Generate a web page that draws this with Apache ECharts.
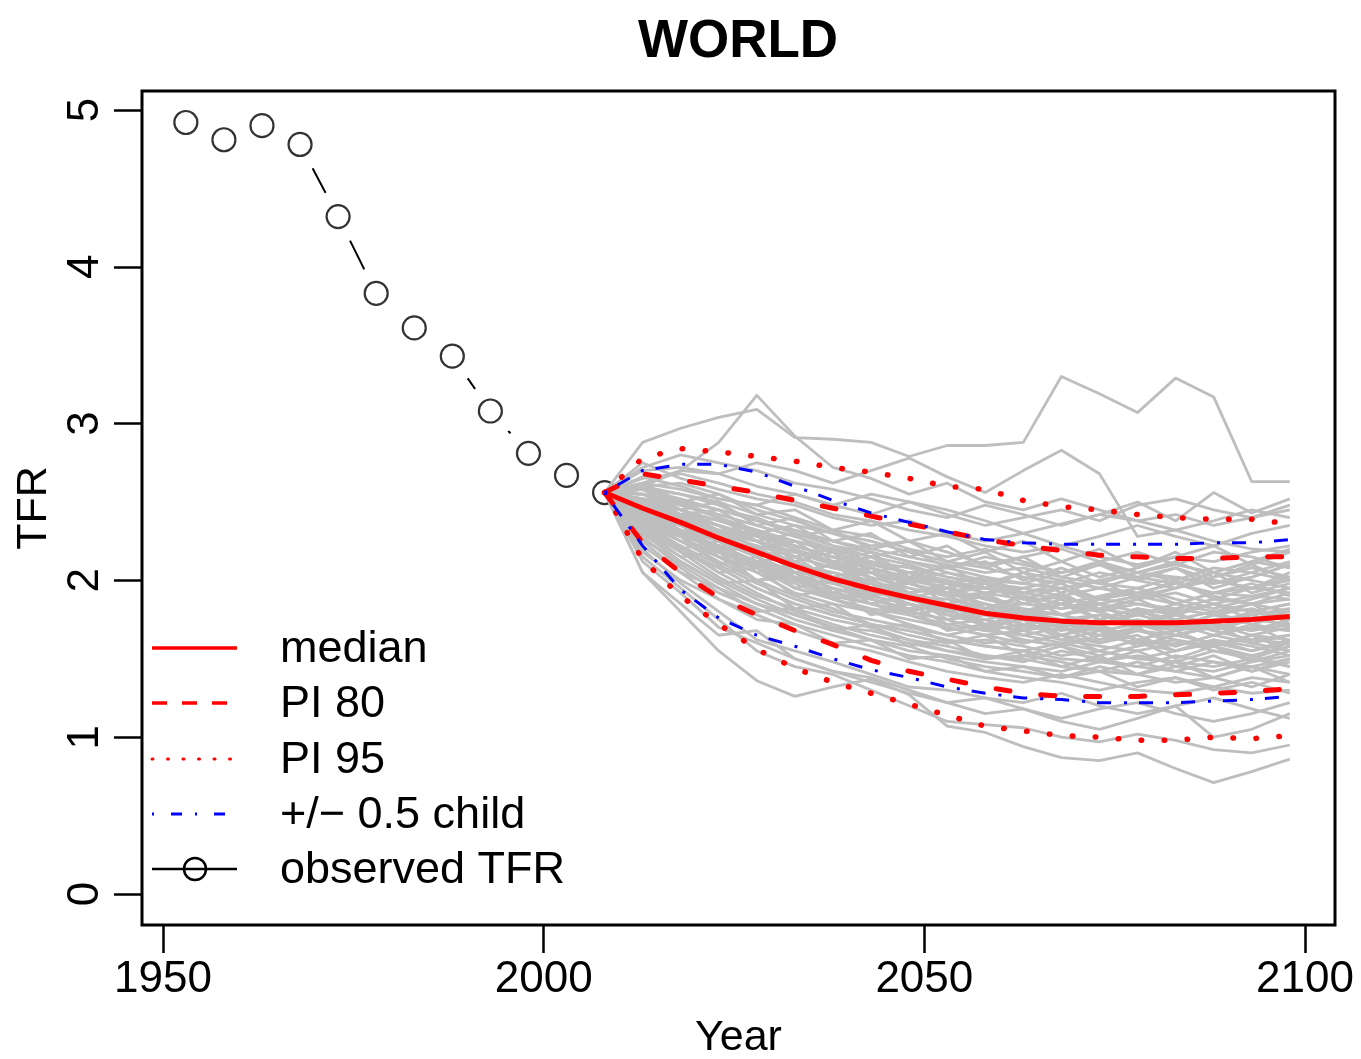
<!DOCTYPE html>
<html><head><meta charset="utf-8">
<script src="https://cdn.jsdelivr.net/npm/echarts@6/dist/echarts.min.js"></script>
<style>html,body{margin:0;padding:0;background:#fff}#c{width:1361px;height:1059px}</style>
</head><body><div id="c"></div>
<script>
// ---------- data ----------
const obsYears = [1953,1958,1963,1968,1973,1978,1983,1988,1993,1998,2003,2008];
const obsTFR   = [4.92,4.81,4.90,4.78,4.32,3.83,3.61,3.43,3.08,2.81,2.67,2.56];

const projYears = [2008,2013,2018,2023,2028,2033,2038,2043,2048,2053,2058,2063,2068,2073,2078,2083,2088,2093,2098];
const median    = [2.56,2.46,2.37,2.27,2.18,2.09,2.01,1.945,1.89,1.84,1.79,1.76,1.74,1.73,1.73,1.73,1.74,1.75,1.77];
const pi80Upper = [2.56,2.68,2.64,2.60,2.56,2.51,2.46,2.41,2.36,2.31,2.26,2.22,2.19,2.16,2.15,2.14,2.14,2.15,2.15];
const pi80Lower = [2.56,2.24,2.05,1.89,1.78,1.68,1.59,1.49,1.42,1.37,1.32,1.28,1.26,1.26,1.26,1.27,1.28,1.29,1.31];
const pi95Upper = [2.56,2.78,2.84,2.82,2.79,2.76,2.72,2.69,2.65,2.60,2.58,2.51,2.47,2.45,2.42,2.40,2.39,2.39,2.36];
const pi95Lower = [2.56,2.13,1.90,1.72,1.56,1.44,1.35,1.28,1.21,1.14,1.07,1.04,1.01,1.00,0.98,0.98,1.00,0.99,1.01];
const halfUpper = [2.56,2.70,2.74,2.74,2.69,2.60,2.51,2.43,2.37,2.31,2.26,2.24,2.23,2.23,2.23,2.23,2.24,2.24,2.26];
const halfLower = [2.56,2.22,1.94,1.76,1.65,1.58,1.50,1.43,1.38,1.32,1.28,1.25,1.24,1.22,1.22,1.22,1.23,1.24,1.26];

const trajectories = [
  [2.56,2.88,2.97,3.04,3.09,2.91,2.90,2.88,2.79,2.86,2.86,2.88,3.30,3.19,3.07,3.29,3.17,2.63,2.63],
  [2.56,2.60,2.70,2.88,3.18,2.92,2.72,2.65,2.55,2.62,2.50,2.45,2.52,2.45,2.38,2.42,2.35,2.40,2.45],
  [2.56,2.62,2.70,2.68,2.75,2.70,2.62,2.70,2.78,2.66,2.56,2.70,2.83,2.68,2.28,2.32,2.25,2.20,2.18],
  [2.56,2.66,2.60,2.52,2.48,2.55,2.48,2.42,2.50,2.45,2.38,2.30,2.36,2.42,2.50,2.38,2.56,2.43,2.52],
  [2.56,2.05,1.80,1.55,1.36,1.26,1.32,1.37,1.27,1.07,1.03,0.94,0.87,0.85,0.90,0.80,0.71,0.78,0.86],
  [2.56,2.15,1.95,1.75,1.55,1.45,1.40,1.30,1.20,1.10,1.08,1.06,1.00,0.97,1.02,0.98,0.92,0.90,0.95],
  [2.56,2.05,1.85,1.65,1.68,1.50,1.42,1.38,1.30,1.22,1.15,1.18,1.10,1.05,1.12,1.20,1.00,1.05,1.15],
  [2.56,2.60,2.55,2.50,2.42,2.35,2.30,2.22,2.25,2.18,2.10,2.15,2.20,2.12,2.05,2.10,2.18,2.15,2.08],
  [2.56,2.48,2.40,2.35,2.20,2.12,2.02,1.95,1.98,1.90,1.82,1.78,1.85,1.80,1.72,1.70,1.78,1.82,1.75],
  [2.56,2.40,2.28,2.15,2.05,1.92,1.85,1.80,1.72,1.65,1.70,1.62,1.58,1.65,1.60,1.55,1.62,1.58,1.52],
  [2.56,2.52,2.45,2.38,2.30,2.22,2.15,2.08,2.00,2.05,1.98,1.92,1.95,1.88,1.92,1.98,1.90,1.85,1.92],
  [2.56,2.35,2.20,2.05,1.92,1.80,1.72,1.65,1.60,1.55,1.52,1.48,1.55,1.50,1.45,1.52,1.48,1.42,1.48],
  [2.56,2.45,2.38,2.25,2.15,2.05,2.02,1.95,1.88,1.80,1.85,1.78,1.70,1.75,1.82,1.78,1.72,1.80,1.85],
  [2.56,2.62,2.58,2.52,2.48,2.40,2.32,2.28,2.20,2.15,2.20,2.12,2.05,2.10,2.02,1.98,2.05,2.00,1.95],
  [2.56,2.30,2.12,1.98,1.85,1.78,1.70,1.62,1.58,1.50,1.45,1.42,1.38,1.45,1.40,1.35,1.38,1.32,1.40],
  [2.56,2.50,2.42,2.32,2.25,2.10,2.05,2.00,1.92,1.95,1.88,1.82,1.78,1.72,1.78,1.85,1.80,1.72,1.68],
  [2.56,2.42,2.30,2.20,2.10,2.00,1.90,1.85,1.78,1.72,1.68,1.72,1.65,1.60,1.68,1.62,1.58,1.65,1.70],
  [2.56,2.55,2.48,2.42,2.35,2.28,2.20,2.15,2.10,2.02,1.98,2.05,2.00,1.95,2.02,2.08,2.00,1.95,2.02],
  [2.56,2.38,2.25,2.12,2.00,1.90,1.82,1.72,1.68,1.62,1.58,1.55,1.60,1.55,1.50,1.48,1.55,1.52,1.45],
  [2.56,2.45,2.32,2.22,2.12,2.05,1.95,1.88,1.82,1.85,1.78,1.72,1.75,1.68,1.72,1.78,1.72,1.68,1.75],
  [2.56,2.58,2.52,2.45,2.38,2.32,2.25,2.18,2.12,2.08,2.15,2.10,2.05,2.12,2.18,2.10,2.05,2.12,2.08],
  [2.56,2.32,2.18,2.02,1.90,1.82,1.75,1.70,1.62,1.58,1.52,1.50,1.45,1.42,1.48,1.42,1.38,1.45,1.40],
  [2.56,2.48,2.38,2.28,2.18,2.10,2.00,1.95,1.85,1.80,1.75,1.80,1.75,1.78,1.72,1.68,1.75,1.78,1.82],
  [2.56,2.52,2.48,2.40,2.30,2.25,2.18,2.10,2.05,1.98,1.95,1.90,1.85,1.90,1.95,1.88,1.82,1.88,1.95],
  [2.56,2.40,2.25,2.18,2.08,1.98,1.88,1.80,1.75,1.70,1.65,1.60,1.65,1.70,1.62,1.58,1.65,1.60,1.55],
  [2.56,2.44,2.35,2.28,2.20,2.10,2.05,1.98,1.90,1.88,1.82,1.85,1.90,1.82,1.78,1.82,1.88,1.85,1.80],
  [2.56,2.36,2.22,2.10,1.98,1.88,1.80,1.75,1.70,1.65,1.60,1.62,1.58,1.52,1.58,1.62,1.55,1.50,1.58],
  [2.56,2.65,2.68,2.62,2.55,2.50,2.42,2.38,2.32,2.28,2.22,2.18,2.22,2.15,2.10,2.15,2.12,2.18,2.22],
  [2.56,2.28,2.08,1.92,1.82,1.72,1.65,1.58,1.52,1.48,1.42,1.38,1.35,1.30,1.35,1.38,1.32,1.28,1.30],
  [2.56,2.50,2.40,2.30,2.22,2.15,2.08,2.02,1.95,1.90,1.92,1.88,1.82,1.85,1.80,1.75,1.80,1.85,1.88],
  [2.56,2.46,2.35,2.25,2.15,2.02,1.95,1.90,1.85,1.78,1.72,1.68,1.72,1.78,1.72,1.65,1.70,1.75,1.72],
  [2.56,2.55,2.50,2.45,2.40,2.30,2.22,2.18,2.12,2.05,2.00,1.98,1.95,2.00,2.05,2.02,1.98,2.02,2.10],
  [2.56,2.34,2.18,2.08,1.95,1.85,1.78,1.72,1.65,1.60,1.62,1.58,1.52,1.55,1.50,1.55,1.60,1.55,1.62],
  [2.56,2.42,2.32,2.25,2.18,2.08,1.98,1.92,1.88,1.82,1.78,1.75,1.70,1.65,1.70,1.75,1.68,1.62,1.65],
  [2.56,2.60,2.62,2.55,2.45,2.38,2.30,2.25,2.18,2.12,2.08,2.02,1.98,2.05,2.00,1.95,2.02,2.08,2.02],
  [2.56,2.25,2.05,1.88,1.78,1.68,1.60,1.55,1.48,1.42,1.38,1.35,1.40,1.35,1.30,1.28,1.32,1.38,1.35],
  [2.56,2.48,2.42,2.32,2.25,2.18,2.12,2.05,1.98,1.92,1.85,1.80,1.78,1.82,1.88,1.92,1.85,1.80,1.85],
  [2.56,2.40,2.30,2.18,2.10,2.02,1.92,1.85,1.80,1.75,1.68,1.65,1.60,1.62,1.68,1.65,1.60,1.62,1.60],
  [2.56,2.52,2.42,2.35,2.28,2.20,2.12,2.08,2.02,1.98,1.92,1.95,1.90,1.95,1.90,1.85,1.92,1.95,2.00],
  [2.56,2.30,2.15,2.00,1.88,1.78,1.70,1.68,1.62,1.55,1.50,1.52,1.48,1.42,1.40,1.45,1.42,1.48,1.52],
  [2.56,2.46,2.36,2.28,2.18,2.10,2.02,1.98,1.92,1.85,1.82,1.78,1.75,1.72,1.75,1.70,1.72,1.68,1.72],
  [2.56,2.58,2.50,2.40,2.32,2.25,2.20,2.12,2.08,2.02,1.98,1.95,2.00,1.95,1.92,1.98,1.92,1.90,1.95],
  [2.56,2.72,2.80,2.75,2.70,2.62,2.58,2.52,2.45,2.40,2.48,2.42,2.35,2.42,2.38,2.32,2.38,2.45,2.40],
  [2.56,2.70,2.72,2.68,2.60,2.55,2.48,2.55,2.50,2.42,2.35,2.40,2.45,2.38,2.48,2.52,2.45,2.40,2.48],
  [2.56,2.12,1.92,1.70,1.60,1.50,1.42,1.35,1.28,1.22,1.25,1.18,1.12,1.18,1.22,1.15,1.10,1.15,1.22],
  [2.56,2.20,1.98,1.80,1.62,1.55,1.48,1.40,1.32,1.30,1.25,1.22,1.28,1.20,1.15,1.20,1.25,1.18,1.12],
  [2.56,2.75,2.65,2.58,2.52,2.48,2.40,2.35,2.38,2.30,2.25,2.30,2.22,2.28,2.35,2.28,2.22,2.30,2.35],
  [2.56,2.50,2.45,2.30,2.25,2.15,2.08,2.05,1.98,1.92,1.95,1.90,1.85,1.80,1.85,1.82,1.78,1.72,1.78],
  [2.56,2.38,2.28,2.22,2.12,2.02,1.98,1.90,1.85,1.78,1.75,1.70,1.72,1.68,1.62,1.68,1.72,1.65,1.62],
  [2.56,2.55,2.45,2.38,2.32,2.22,2.15,2.12,2.05,2.08,2.02,1.98,2.05,2.10,2.05,2.00,2.08,2.05,2.00],
  [2.56,2.42,2.28,2.15,2.08,1.95,1.88,1.82,1.78,1.70,1.65,1.68,1.62,1.58,1.55,1.60,1.58,1.52,1.58],
  [2.56,2.48,2.40,2.35,2.25,2.18,2.10,2.05,2.00,1.95,1.88,1.85,1.82,1.88,1.85,1.80,1.85,1.90,1.88],
  [2.56,2.33,2.20,2.08,1.95,1.85,1.78,1.72,1.68,1.62,1.58,1.55,1.50,1.48,1.52,1.48,1.45,1.50,1.45],
  [2.56,2.58,2.55,2.48,2.38,2.30,2.25,2.20,2.15,2.10,2.05,2.08,2.02,1.98,1.95,2.02,1.98,2.05,2.12],
  [2.56,2.44,2.32,2.20,2.10,2.00,1.92,1.88,1.80,1.75,1.78,1.72,1.68,1.72,1.78,1.72,1.65,1.70,1.68],
  [2.56,2.27,2.10,1.95,1.85,1.75,1.68,1.62,1.55,1.52,1.48,1.45,1.42,1.48,1.45,1.42,1.48,1.45,1.50],
  [2.56,2.52,2.45,2.35,2.28,2.22,2.15,2.10,2.05,2.00,1.95,1.92,1.88,1.85,1.90,1.95,2.00,1.95,1.92],
  [2.56,2.40,2.35,2.20,2.22,2.05,2.10,1.95,2.00,1.85,1.92,1.80,1.88,1.75,1.82,1.70,1.78,1.85,1.72],
  [2.56,2.52,2.35,2.40,2.25,2.30,2.12,2.18,2.02,2.10,1.95,2.05,1.92,2.00,1.88,1.95,2.05,1.92,1.98],
  [2.56,2.35,2.28,2.10,2.15,1.95,2.00,1.85,1.90,1.75,1.80,1.68,1.75,1.62,1.70,1.58,1.65,1.72,1.60],
  [2.56,2.45,2.28,2.32,2.15,2.20,2.02,2.08,1.92,1.98,1.82,1.90,1.78,1.85,1.72,1.80,1.68,1.75,1.82],
  [2.56,2.30,2.22,2.05,2.08,1.90,1.95,1.78,1.82,1.68,1.72,1.60,1.65,1.55,1.62,1.50,1.58,1.48,1.55],
  [2.56,2.58,2.45,2.50,2.35,2.40,2.25,2.30,2.15,2.22,2.08,2.15,2.02,2.10,2.00,2.08,1.95,2.02,2.10],
  [2.56,2.38,2.20,2.25,2.05,2.10,1.92,1.98,1.80,1.85,1.72,1.78,1.65,1.72,1.62,1.68,1.58,1.65,1.55],
  [2.56,2.48,2.40,2.25,2.30,2.12,2.18,2.00,2.05,1.92,1.98,1.85,1.92,1.80,1.88,1.78,1.85,1.75,1.80],
  [2.56,2.26,2.12,1.98,2.00,1.82,1.85,1.70,1.72,1.60,1.65,1.52,1.58,1.48,1.55,1.45,1.52,1.42,1.50],
  [2.56,2.62,2.50,2.55,2.42,2.45,2.32,2.38,2.25,2.30,2.18,2.25,2.12,2.20,2.08,2.15,2.22,2.10,2.18],
  [2.56,2.42,2.32,2.18,2.22,2.05,2.10,1.98,1.88,1.95,1.82,1.90,1.78,1.72,1.80,1.75,1.68,1.78,1.70],
  [2.56,2.36,2.25,2.15,2.00,2.05,1.88,1.92,1.78,1.82,1.70,1.75,1.62,1.68,1.58,1.65,1.72,1.60,1.65],
  [2.56,2.50,2.42,2.35,2.20,2.25,2.10,2.15,2.02,1.95,2.00,1.88,1.95,1.85,1.90,2.00,1.88,1.95,2.05],
  [2.56,2.22,2.05,1.95,1.80,1.82,1.68,1.72,1.58,1.62,1.50,1.55,1.45,1.52,1.40,1.48,1.38,1.45,1.35],
  [2.56,2.55,2.42,2.45,2.30,2.35,2.22,2.15,2.20,2.08,2.12,2.00,2.08,1.98,2.05,2.12,2.02,2.10,2.00],
  [2.56,2.44,2.30,2.22,2.12,2.15,2.00,2.05,1.92,1.85,1.90,1.80,1.85,1.75,1.70,1.78,1.72,1.80,1.75],
  [2.56,2.32,2.15,2.18,2.00,2.02,1.88,1.80,1.85,1.72,1.75,1.65,1.70,1.60,1.65,1.55,1.62,1.55,1.60],
  [2.56,2.60,2.48,2.42,2.35,2.28,2.32,2.20,2.25,2.12,2.18,2.05,2.12,2.02,2.08,2.18,2.05,2.12,2.20],
  [2.56,2.18,2.00,1.88,1.75,1.72,1.60,1.62,1.50,1.52,1.42,1.45,1.38,1.42,1.32,1.38,1.30,1.35,1.28],
  [2.56,2.46,2.38,2.28,2.32,2.15,2.20,2.05,2.10,1.98,2.02,1.92,1.98,1.88,1.95,1.85,1.92,1.98,1.90]
];

const xTicks = [1950, 2000, 2050, 2100];
const yTicks = [0, 1, 2, 3, 4, 5];
const titleText = 'WORLD';
const xName = 'Year';
const yName = 'TFR';
const legendNames = ['median', 'PI 80', 'PI 95', '+/\u2212 0.5 child', 'observed TFR'];

// ---------- chart ----------
const FONT = '"Liberation Sans", Arial, Helvetica, sans-serif';
const zip = (xs, ys) => xs.map((x, i) => [x, ys[i]]);
const chart = echarts.init(document.getElementById('c'), null, {renderer: 'canvas'});

const series = [];
// observed line with gaps around the points (white masks under the circles)
series.push({
  type: 'line', data: zip(obsYears, obsTFR), z: 1, silent: true,
  symbol: 'circle', symbolSize: 54, showSymbol: true,
  itemStyle: {color: '#ffffff', borderWidth: 0},
  lineStyle: {color: '#000', width: 2},
  emphasis: {disabled: true}
});
series.push({
  type: 'scatter', data: zip(obsYears, obsTFR), z: 1, silent: true,
  symbol: 'circle', symbolSize: 23,
  itemStyle: {color: 'rgba(0,0,0,0)', borderColor: '#000', borderWidth: 2.2},
  emphasis: {disabled: true}
});
trajectories.forEach(t => series.push({
  type: 'line', data: zip(projYears, t), z: 2, silent: true,
  symbol: 'none', lineStyle: {color: '#bebebe', width: 2.8, join: 'round'},
  emphasis: {disabled: true}
}));
const band = (vals, style, z) => ({
  type: 'line', data: zip(projYears, vals), z: z, silent: true,
  symbol: 'none', lineStyle: style, emphasis: {disabled: true}
});
series.push(band(median, {color: '#ff0000', width: 5, join: 'round'}, 3));
series.push(band(pi80Upper, {color: '#ff0000', width: 5, type: [14, 31], cap: 'round'}, 3));
series.push(band(pi80Lower, {color: '#ff0000', width: 5, type: [14, 31], cap: 'round'}, 3));
series.push(band(pi95Upper, {color: '#ff0000', width: 5.5, type: [0.5, 22.5], cap: 'round'}, 3));
series.push(band(pi95Lower, {color: '#ff0000', width: 5.5, type: [0.5, 22.5], cap: 'round'}, 3));
series.push(band(halfUpper, {color: '#0000ff', width: 3, type: [3, 12, 14, 13]}, 4));
series.push(band(halfLower, {color: '#0000ff', width: 3, type: [3, 12, 14, 13]}, 4));

// legend drawn as graphic (R-style legend inside plot)
const legY = [648, 703, 759, 814, 869];
const legStyles = [
  {stroke: '#ff0000', lineWidth: 3.5},
  {stroke: '#ff0000', lineWidth: 3.5, lineDash: [15, 15]},
  {stroke: '#ff0000', lineWidth: 3, lineDash: [1, 14.5], lineCap: 'round'},
  {stroke: '#0000ff', lineWidth: 3, lineDash: [2, 17, 11, 13]},
  {stroke: '#000000', lineWidth: 2.5}
];
const graphics = [];
legendNames.forEach((name, i) => {
  graphics.push({type: 'line', z: 100, silent: true,
    shape: {x1: 152, y1: legY[i], x2: 237, y2: legY[i]}, style: legStyles[i]});
  graphics.push({type: 'text', z: 100, silent: true, x: 280, y: legY[i] + 2,
    style: {text: name, fontSize: 45, fontFamily: FONT, fill: '#000', verticalAlign: 'middle', align: 'left'}});
});
graphics.push({type: 'circle', z: 100, silent: true, shape: {cx: 195, cy: legY[4], r: 11},
  style: {fill: 'none', stroke: '#000', lineWidth: 2.5}});
// title centred over the plot region
graphics.push({type: 'text', z: 100, silent: true, x: 738, y: 16,
  style: {text: titleText, fontSize: 53, fontWeight: 'bold', fontFamily: FONT, fill: '#000', align: 'center', verticalAlign: 'top'}});

const option = {
  animation: false,
  backgroundColor: '#ffffff',
  grid: {left: 142, top: 91, width: 1193, height: 834, show: true,
    borderColor: '#000', borderWidth: 3, backgroundColor: 'transparent',
    containLabel: false, outerBoundsMode: 'none'},
  xAxis: {
    type: 'value', min: 1947.24, max: 2103.94,
    name: xName, nameLocation: 'middle', nameGap: 92, nameMoveOverlap: false,
    nameTextStyle: {fontSize: 43, fontFamily: FONT, color: '#000'},
    axisLine: {show: false, onZero: false},
    splitLine: {show: false},
    axisTick: {show: true, customValues: xTicks, length: 28, inside: false, lineStyle: {color: '#000', width: 2.5}},
    axisLabel: {show: true, customValues: xTicks, fontSize: 44, fontFamily: FONT, color: '#000', margin: 33,
      formatter: v => String(v)}
  },
  yAxis: {
    type: 'value', min: -0.198, max: 5.121,
    name: yName, nameLocation: 'middle', nameGap: 85, nameRotate: 90,
    nameTextStyle: {fontSize: 43, fontFamily: FONT, color: '#000'},
    axisLine: {show: false, onZero: false},
    splitLine: {show: false},
    axisTick: {show: true, customValues: yTicks, length: 28, inside: false, lineStyle: {color: '#000', width: 2.5}},
    axisLabel: {show: true, customValues: yTicks, rotate: 90, fontSize: 44, fontFamily: FONT, color: '#000', margin: 34,
      formatter: v => String(v)}
  },
  series: series,
  graphic: graphics
};
chart.setOption(option);
</script>
</body></html>
